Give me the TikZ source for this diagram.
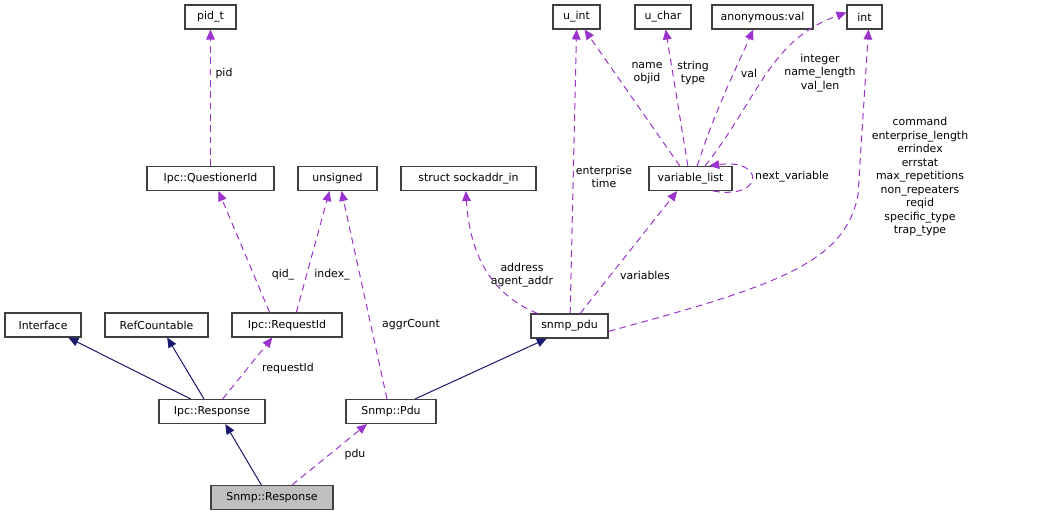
\documentclass[tikz,border=0pt]{standalone}
\usepackage{fontspec}
\setmainfont{DejaVu Sans}
\usetikzlibrary{arrows.meta}
\definecolor{navyc}{RGB}{25,25,112}
\definecolor{purp}{RGB}{154,50,205}
\definecolor{boxb}{RGB}{64,64,64}
\tikzset{
  box/.style={draw=boxb, line width=0.8pt, fill=white, minimum height=18pt, inner sep=0pt, font=\fontsize{8.2}{9}\selectfont},
  inh/.style={draw=navyc, line width=0.75pt, -{Triangle[length=7.5pt,width=6.5pt]}},
  use/.style={draw=purp, line width=0.75pt, dash pattern=on 5pt off 3.5pt, -{Triangle[length=7.5pt,width=6.5pt]}},
  lab/.style={font=\fontsize{8.2}{10.1}\selectfont, align=center, inner sep=0pt}
}
\begin{document}
\begin{tikzpicture}[x=0.75pt,y=-0.75pt]
\useasboundingbox (0,0) rectangle (1038,517);
% nodes
\node[box, minimum width=38.25pt] (pid) at (210.5,17) {pid\_t};
\node[box, minimum width=95.25pt] (qid) at (210.5,178.5) {Ipc::QuestionerId};
\node[box, minimum width=59.25pt] (uns) at (337.5,178.5) {unsigned};
\node[box, minimum width=101.25pt] (sock) at (468.5,178.5) {struct sockaddr\_in};
\node[box, minimum width=35.25pt] (uint) at (576.5,17) {u\_int};
\node[box, minimum width=42pt] (uchar) at (663,17) {u\_char};
\node[box, minimum width=75.75pt] (anon) at (762.5,17) {anonymous:val};
\node[box, minimum width=26.25pt] (int) at (864.5,17) {int};
\node[box, minimum width=62.25pt] (vl) at (690.5,178.5) {variable\_list};
\node[box, minimum width=57.75pt] (pdu) at (569.5,326) {snmp\_pdu};
\node[box, minimum width=57pt] (iface) at (43,325) {Interface};
\node[box, minimum width=77.25pt] (ref) at (156.5,325) {RefCountable};
\node[box, minimum width=82.5pt] (rid) at (287,325) {Ipc::RequestId};
\node[box, minimum width=79.5pt] (iresp) at (212,411.5) {Ipc::Response};
\node[box, minimum width=67.5pt] (spdu) at (391,411.5) {Snmp::Pdu};
\node[box, minimum width=91.5pt, fill={rgb,255:red,191;green,191;blue,191}] (sresp) at (272,497.5) {Snmp::Response};
% inheritance
\draw[inh] ([xshift=-8pt]sresp.north) -- ([xshift=10pt]iresp.south);
\draw[inh] ([xshift=-16pt]iresp.north) -- ([xshift=19pt]iface.south);
\draw[inh] ([xshift=-6pt]iresp.north) -- ([xshift=8pt]ref.south);
\draw[inh] ([xshift=18pt]spdu.north) -- ([xshift=-17pt]pdu.south);
% usage
\draw[use] ([xshift=15pt]sresp.north) -- ([xshift=-18pt]spdu.south);
\draw[use] ([xshift=8pt]iresp.north) -- ([xshift=-11pt]rid.south);
\draw[use] ([xshift=-13pt]rid.north) -- ([xshift=6pt]qid.south);
\draw[use] ([xshift=7pt]rid.north) -- ([xshift=-6pt]uns.south);
\draw[use] ([xshift=-3pt]spdu.north) -- ([xshift=3pt]uns.south);
\draw[use] (qid.north) -- (pid.south);
\draw[use] ([xshift=-24pt]pdu.north) .. controls (495,296) and (470,260) .. ([xshift=-2pt]sock.south);
\draw[use] ([xshift=0.5pt]pdu.north) -- (uint.south);
\draw[use] ([xshift=8pt]pdu.north) -- ([xshift=-10pt]vl.south);
\draw[use] ([yshift=-4pt]pdu.east) .. controls (780,285) and (845,262) .. (858,195) -- ([xshift=3pt]int.south);
\draw[use] ([xshift=-8pt]vl.north) -- ([xshift=6pt]uint.south);
\draw[use] ([xshift=-2pt]vl.north) -- ([xshift=2pt]uchar.south);
\draw[use] ([xshift=5pt]vl.north) .. controls (715,110) and (740,60) .. ([xshift=-7pt]anon.south);
\draw[use] ([xshift=11pt]vl.north) .. controls (760,95) and (770,40) .. ([yshift=-6pt]int.north west);
\draw[use] ([xshift=17pt]vl.south) .. controls (765,200) and (765,158) .. ([xshift=14pt]vl.north);
% labels
\node[lab] (l1) at (224,73) {pid};
\node[lab] (l2) at (283,275) {qid\_};
\node[lab] (l3) at (332,275) {index\_};
\node[lab] (l4) at (411,325) {aggrCount};
\node[lab] (l5) at (288,368) {requestId};
\node[lab] (l6) at (355,454) {pdu};
\node[lab] (l7) at (522,275) {address\\agent\_addr};
\node[lab] (l8) at (604,177) {enterprise\\time};
\node[lab] (l9) at (645,275) {variables};
\node[lab] (l10) at (647,73) {name\\objid};
\node[lab] (l11) at (693,73) {string\\type};
\node[lab] (l12) at (749,73) {val};
\node[lab] (l13) at (820,73) {integer\\name\_length\\val\_len};
\node[lab] (l14) at (792,177) {next\_variable};
\node[lab] (l15) at (920,177) {command\\enterprise\_length\\errindex\\errstat\\max\_repetitions\\non\_repeaters\\reqid\\specific\_type\\trap\_type};
\end{tikzpicture}
\end{document}
